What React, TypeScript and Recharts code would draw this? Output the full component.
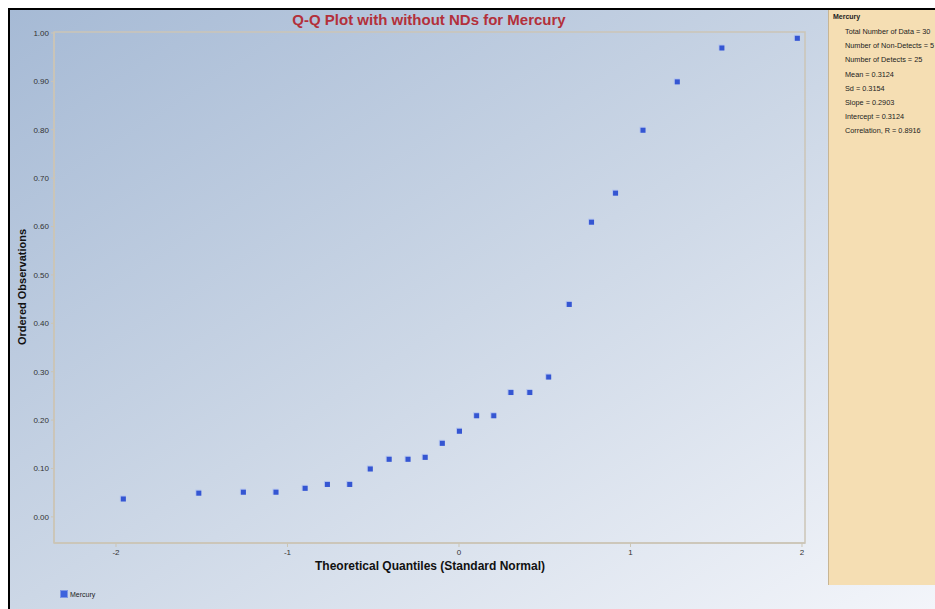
import { ReferenceArea, Scatter, ScatterChart, XAxis, YAxis } from "recharts";

// theoretical normal quantiles (x) and ordered detected values (y)
const quantiles = [
  -1.96, -1.52, -1.26, -1.07, -0.9, -0.77, -0.64, -0.52, -0.41, -0.3, -0.2, -0.1, 0,
  0.1, 0.2, 0.3, 0.41, 0.52, 0.64, 0.77, 0.91, 1.07, 1.27, 1.53, 1.97,
];
const observations = [
  0.038, 0.05, 0.052, 0.052, 0.06, 0.068, 0.068, 0.1, 0.12, 0.12, 0.124, 0.153, 0.178,
  0.21, 0.21, 0.258, 0.258, 0.29, 0.44, 0.61, 0.67, 0.8, 0.9, 0.97, 0.99,
];
const xTicks = [-2, -1, 0, 1, 2];
const yTicks = [0, 0.1, 0.2, 0.3, 0.4, 0.5, 0.6, 0.7, 0.8, 0.9, 1.0];
const statsTitle = "Mercury";
const statsLines = [
  "Total Number of Data = 30",
  "Number of Non-Detects = 5",
  "Number of Detects = 25",
  "Mean = 0.3124",
  "Sd = 0.3154",
  "Slope = 0.2903",
  "Intercept = 0.3124",
  "Correlation, R = 0.8916",
];

const X_DOMAIN: [number, number] = [-2.3615, 2.0175];
const Y_DOMAIN: [number, number] = [-0.054, 1.002];
const FONT = "Arial, 'Liberation Sans', sans-serif";

const rows = quantiles.map((q, i) => ({ q, v: observations[i] }));

function Marker(props: any) {
  const { cx, cy } = props;
  if (cx == null || cy == null) return null;
  return (
    <g>
      <rect x={cx - 3} y={cy - 3} width={6} height={6} fill="#b3c3ee" />
      <rect x={cx - 2} y={cy - 2} width={5} height={5} fill="#3556d2" />
    </g>
  );
}

export default function App() {
  const tick = { fontSize: 8, fill: "#333", fontFamily: FONT };
  return (
    <>
      <style>{"html{overflow:hidden} body{margin:8px 0 0 8px}"}</style>
      <div
        style={{
          position: "fixed",
          left: 8,
          top: 8,
          width: 925,
          height: 599,
          borderTop: "2px solid #000",
          borderLeft: "2px solid #000",
          background: "linear-gradient(to bottom right, #a6bad5 0%, #ccd7e6 50%, #f3f5fa 100%)",
          fontFamily: FONT,
          overflow: "hidden",
        }}
      >
        <div
          style={{
            position: "absolute",
            left: 419,
            top: 9,
            transform: "translate(-50%, -50%)",
            whiteSpace: "nowrap",
            fontSize: 15,
            fontWeight: "bold",
            color: "#b3303a",
          }}
        >
          Q-Q Plot with without NDs for Mercury
        </div>
        <ScatterChart
          width={925}
          height={599}
          margin={{ top: 22, right: 130, bottom: 46, left: 0 }}
          style={{ position: "absolute", left: 0, top: 0 }}
        >
          <XAxis
            type="number"
            dataKey="q"
            domain={X_DOMAIN}
            ticks={xTicks}
            allowDataOverflow
            height={20}
            tick={tick}
            tickSize={4}
            axisLine={{ stroke: "#cbc5b6", strokeWidth: 1.5 }}
            tickLine={{ stroke: "#cbc5b6" }}
          />
          <YAxis
            type="number"
            dataKey="v"
            domain={Y_DOMAIN}
            ticks={yTicks}
            allowDataOverflow
            width={44}
            tick={tick}
            tickSize={3}
            tickFormatter={(v) => Number(v).toFixed(2)}
            axisLine={{ stroke: "#cbc5b6", strokeWidth: 1.5 }}
            tickLine={{ stroke: "#cbc5b6" }}
          />
          <ReferenceArea
            x1={X_DOMAIN[0]}
            x2={X_DOMAIN[1]}
            y1={Y_DOMAIN[0]}
            y2={Y_DOMAIN[1]}
            fill="none"
            stroke="#cbc5b6"
            strokeWidth={1.5}
          />
          <Scatter data={rows} shape={Marker} isAnimationActive={false} />
        </ScatterChart>
        <div
          style={{
            position: "absolute",
            left: 12,
            top: 277,
            transform: "translate(-50%, -50%) rotate(-90deg)",
            whiteSpace: "nowrap",
            fontSize: 11,
            fontWeight: "bold",
            color: "#111",
          }}
        >
          Ordered Observations
        </div>
        <div
          style={{
            position: "absolute",
            left: 420,
            top: 556,
            transform: "translate(-50%, -50%)",
            whiteSpace: "nowrap",
            fontSize: 12,
            fontWeight: "bold",
            color: "#111",
          }}
        >
          Theoretical Quantiles (Standard Normal)
        </div>
        <div style={{ position: "absolute", left: 50, top: 580, display: "flex", alignItems: "center" }}>
          <div style={{ width: 8, height: 8, background: "#3d63dd", border: "1px solid #7f98e4", boxSizing: "border-box" }} />
          <span style={{ fontSize: 7, marginLeft: 2, color: "#222" }}>Mercury</span>
        </div>
        <div
          style={{
            position: "absolute",
            left: 818,
            top: 0,
            width: 107,
            height: 575,
            background: "#f5deb3",
            borderLeft: "1.5px solid #c7b594",
            boxSizing: "border-box",
            overflow: "hidden",
            whiteSpace: "nowrap",
            color: "#222",
          }}
        >
          <div style={{ position: "absolute", left: 4, top: 3, fontSize: 7, fontWeight: "bold" }}>{statsTitle}</div>
          {statsLines.map((line, i) => (
            <div key={line} style={{ position: "absolute", left: 16, top: 17 + i * 14.2, fontSize: 7.3 }}>
              {line}
            </div>
          ))}
        </div>
      </div>
    </>
  );
}
